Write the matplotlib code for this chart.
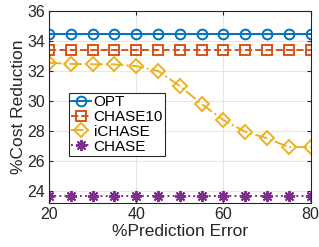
import matplotlib
matplotlib.use("Agg")
import matplotlib.pyplot as plt
import numpy as np

plt.rcParams['font.family'] = ['Liberation Sans', 'DejaVu Sans']

x = [20, 25, 30, 35, 40, 45, 50, 55, 60, 65, 70, 75, 80]
opt = [34.43] * 13
chase10 = [33.38] * 13
ichase = [32.53, 32.45, 32.43, 32.42, 32.3, 31.98, 30.98, 29.78, 28.71, 27.93, 27.49, 26.9, 26.9]
chase = [23.62] * 13

fig = plt.figure(figsize=(3.19, 2.47), dpi=100)
ax = fig.add_axes([49/319, 1 - 203.3/247, 261.5/319, 192.6/247])

ax.plot(x, opt, '-o', color='#0072BD', mfc='none', ms=7, mew=1.4, lw=1.4, label='OPT')
ax.plot(x, chase10, '--s', color='#D95319', mfc='none', ms=6.5, mew=1.4, lw=1.4, label='CHASE10')
ax.plot(x, ichase, '-.', marker='D', color='#EDB120', mfc='none', ms=7, mew=1.4, lw=1.4, label='iCHASE')
ax.plot(x, chase, ':', marker=(8, 2, 0), color='#7E2F8E', ms=8, mew=1.4, lw=1.4, label='CHASE')

ax.set_xlim(20, 80)
ax.set_ylim(23.15, 36)
ax.set_xticks([20, 40, 60, 80])
ax.set_yticks([24, 26, 28, 30, 32, 34, 36])
ax.tick_params(direction='in', labelsize=11.5, length=3, top=True, right=True, colors='#262626', pad=3)
ax.grid(True, color='#e6e6e6', lw=0.8)
ax.set_axisbelow(True)
for s in ax.spines.values():
    s.set_color('#262626')
    s.set_linewidth(0.8)
ax.set_xlabel('%Prediction Error', fontsize=12.5, color='#262626', labelpad=1)
ax.set_ylabel('%Cost Reduction', fontsize=12.5, color='#262626', labelpad=1)

leg = ax.legend(loc='upper left', bbox_to_anchor=(0.077, 0.573), fontsize=11,
                handlelength=1.3, handletextpad=0.15, borderpad=0.15, labelspacing=0.05,
                fancybox=False, framealpha=1, edgecolor='#262626', borderaxespad=0)
leg.get_frame().set_linewidth(0.8)

fig.savefig('out.png', dpi=100)
